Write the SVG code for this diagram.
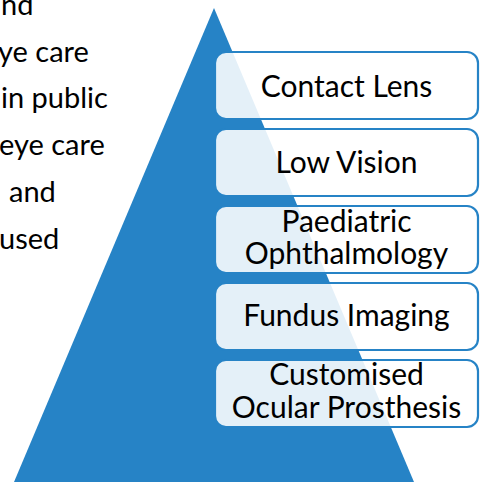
<svg xmlns="http://www.w3.org/2000/svg" width="480" height="482" viewBox="0 0 480 482">
<style>
.side{font-family:Lato,"Liberation Sans",sans-serif;font-size:29px;fill:#000}
.box rect{fill:#fff;fill-opacity:0.88;stroke:#2683c6;stroke-width:2.2}
.box text{font-family:Lato,"Liberation Sans",sans-serif;font-size:30px;fill:#000;text-anchor:middle}
</style>
<rect width="480" height="482" fill="#fff"/>
<g id="side-text">
<text class="side" x="1" y="15">nd</text>
<text class="side" x="-2" y="62">ye care</text>
<text class="side" x="1" y="108">in public</text>
<text class="side" x="-1" y="155">eye care</text>
<text class="side" x="9" y="202">and</text>
<text class="side" x="-1" y="249">used</text>
</g>
<g id="pyramid">
<polygon points="214,8 14,482 414,482" fill="#2683c6"/>
</g>
<g id="connectors"></g>
<g id="n1" class="box">
<rect x="215" y="52" width="263" height="67" rx="11"/>
<text x="346.5" y="97">Contact Lens</text>
</g>
<g id="n2" class="box">
<rect x="215" y="129" width="263" height="67" rx="11"/>
<text x="346.5" y="173">Low Vision</text>
</g>
<g id="n3" class="box">
<rect x="215" y="206" width="263" height="67" rx="11"/>
<text x="346.5" y="232">Paediatric</text>
<text x="346.5" y="264">Ophthalmology</text>
</g>
<g id="n4" class="box">
<rect x="215" y="283" width="263" height="67" rx="11"/>
<text x="346.5" y="326">Fundus Imaging</text>
</g>
<g id="n5" class="box">
<rect x="215" y="360" width="263" height="67" rx="11"/>
<text x="346.5" y="385">Customised</text>
<text x="346.5" y="418">Ocular Prosthesis</text>
</g>
</svg>
